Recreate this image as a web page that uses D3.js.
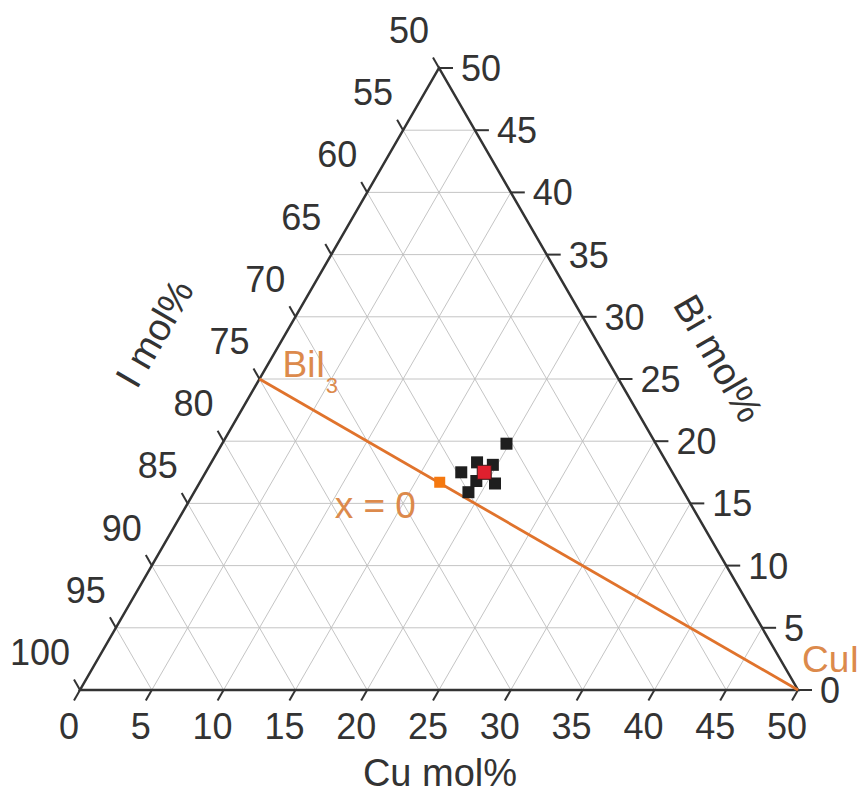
<!DOCTYPE html>
<html>
<head>
<meta charset="utf-8">
<script src="https://cdn.jsdelivr.net/npm/d3@7"></script>
<style>
	body { margin: 0; background: #fff; }
	svg text { font-family: "Liberation Sans", Arial, sans-serif; }
</style>
</head>
<body>
<div id="wrapper"></div>
<script>
// tick values for each side of the ternary
const cuTicks = [0, 5, 10, 15, 20, 25, 30, 35, 40, 45, 50];
const biTicks = [0, 5, 10, 15, 20, 25, 30, 35, 40, 45, 50];
const iTicks = [50, 55, 60, 65, 70, 75, 80, 85, 90, 95, 100];

// measured samples (Cu mol%, Bi mol%), I = 100 - Cu - Bi
const sampleCu = [19.8, 19.7, 18.5, 17.8, 20.6, 19.1, 19.2];
const sampleBi = [19.8, 18.1, 18.3, 17.5, 16.6, 15.9, 16.8];
const meanCu = [19.4];
const meanBi = [17.5];

// BiI3 - CuI tie line and the x = 0 composition
const lineNames = ["BiI3", "CuI"];
const lineCu = [0, 50];
const lineBi = [25, 0];
const refCu = [16.7];
const refBi = [16.7];

function drawTernary() {
	const dimensions = {
		width: 859,
		height: 795,
		left: 80,
		right: 798,
		bottom: 690,
		top: 68
	};

	const svg = d3.select("#wrapper").append("svg")
		.attr("width", dimensions.width)
		.attr("height", dimensions.height);

	// horizontal position uses Cu + Bi/2, vertical uses Bi
	const xScale = d3.scaleLinear().domain([0, 50]).range([dimensions.left, dimensions.right]);
	const yScale = d3.scaleLinear().domain([0, 50]).range([dimensions.bottom, dimensions.top]);

	const px = (cu, bi) => xScale(cu + bi / 2);
	const py = (cu, bi) => yScale(bi);

	const textColor = "#333";
	const orange = "#e0732c";

	// grid lines
	const grid = svg.append("g")
		.attr("stroke", "#bdbdbd")
		.attr("stroke-width", 0.9);
	d3.range(5, 50, 5).forEach(v => {
		// constant Bi (horizontal)
		grid.append("line")
			.attr("x1", px(0, v)).attr("y1", py(0, v))
			.attr("x2", px(50 - v, v)).attr("y2", py(50 - v, v));
		// constant Cu (parallel to left side)
		grid.append("line")
			.attr("x1", px(v, 0)).attr("y1", py(v, 0))
			.attr("x2", px(v, 50 - v)).attr("y2", py(v, 50 - v));
		// constant I (parallel to right side)
		grid.append("line")
			.attr("x1", px(v, 0)).attr("y1", py(v, 0))
			.attr("x2", px(0, v)).attr("y2", py(0, v));
	});

	// frame
	svg.append("path")
		.attr("d", d3.line()([[px(0, 0), py(0, 0)], [px(50, 0), py(50, 0)], [px(0, 50), py(0, 50)]]) + "Z")
		.attr("fill", "none")
		.attr("stroke", textColor)
		.attr("stroke-width", 2.5)
		.attr("stroke-linejoin", "miter");

	const ticks = svg.append("g")
		.attr("stroke", textColor)
		.attr("stroke-width", 2);
	const labels = svg.append("g")
		.attr("fill", textColor)
		.attr("font-size", 36);

	// bottom: Cu
	cuTicks.forEach(v => {
		const x = px(v, 0), y = py(v, 0);
		ticks.append("line")
			.attr("x1", x).attr("y1", y)
			.attr("x2", x - 6).attr("y2", y + 10.5);
		labels.append("text")
			.attr("x", x - 11).attr("y", y + 36)
			.attr("dy", "0.36em")
			.attr("text-anchor", "middle")
			.text(v);
	});

	// right: Bi
	biTicks.forEach(v => {
		const x = px(50 - v, v), y = py(50 - v, v);
		ticks.append("line")
			.attr("x1", x).attr("y1", y)
			.attr("x2", x + 14).attr("y2", y);
		labels.append("text")
			.attr("x", x + 22).attr("y", y)
			.attr("dy", "0.36em")
			.text(v);
	});

	// left: I
	iTicks.forEach(v => {
		const bi = 100 - v;
		const x = px(0, bi), y = py(0, bi);
		ticks.append("line")
			.attr("x1", x).attr("y1", y)
			.attr("x2", x - 6).attr("y2", y - 10.5);
		labels.append("text")
			.attr("x", x - 10).attr("y", y - 38)
			.attr("dy", "0.36em")
			.attr("text-anchor", "end")
			.text(v);
	});

	// axis titles
	svg.append("text")
		.attr("x", 440).attr("y", 772)
		.attr("dy", "0.36em")
		.attr("text-anchor", "middle")
		.attr("font-size", 38)
		.attr("fill", textColor)
		.text("Cu mol%");
	svg.append("text")
		.attr("transform", "translate(154,333) rotate(-60)")
		.attr("dy", "0.36em")
		.attr("text-anchor", "middle")
		.attr("font-size", 38)
		.attr("fill", textColor)
		.text("I mol%");
	svg.append("text")
		.attr("transform", "translate(719,358) rotate(60)")
		.attr("dy", "0.36em")
		.attr("text-anchor", "middle")
		.attr("font-size", 38)
		.attr("fill", textColor)
		.text("Bi mol%");

	// tie line BiI3 - CuI
	svg.append("path")
		.attr("d", d3.line()
			.x((d, i) => px(lineCu[i], lineBi[i]))
			.y((d, i) => py(lineCu[i], lineBi[i]))(lineNames))
		.attr("fill", "none")
		.attr("stroke", orange)
		.attr("stroke-width", 2.8);

	// annotations
	const biI3 = svg.append("text")
		.attr("x", px(lineCu[0], lineBi[0]) + 23)
		.attr("y", py(lineCu[0], lineBi[0]) - 2)
		.attr("font-size", 37)
		.attr("fill", "#dc8a4c");
	biI3.append("tspan").text("BiI");
	biI3.append("tspan").attr("font-size", 22).attr("dy", 16).text("3");

	svg.append("text")
		.attr("x", px(lineCu[1], lineBi[1]) + 4)
		.attr("y", py(lineCu[1], lineBi[1]) - 18)
		.attr("font-size", 37)
		.attr("fill", "#dc8a4c")
		.text("CuI");

	svg.append("text")
		.attr("x", px(refCu[0], refBi[0]) - 105)
		.attr("y", py(refCu[0], refBi[0]) + 36)
		.attr("font-size", 37)
		.attr("fill", "#dc8a4c")
		.text("x = 0");

	// markers
	const size = 12;
	svg.append("g").selectAll("rect")
		.data(refCu)
		.join("rect")
		.attr("x", (d, i) => px(d, refBi[i]) - 5.5)
		.attr("y", (d, i) => py(d, refBi[i]) - 5.5)
		.attr("width", 11).attr("height", 11)
		.attr("fill", "#f5780f");

	svg.append("g").selectAll("rect")
		.data(sampleCu)
		.join("rect")
		.attr("x", (d, i) => px(d, sampleBi[i]) - size / 2)
		.attr("y", (d, i) => py(d, sampleBi[i]) - size / 2)
		.attr("width", size).attr("height", size)
		.attr("fill", "#1e1e1e");

	svg.append("g").selectAll("rect")
		.data(meanCu)
		.join("rect")
		.attr("x", (d, i) => px(d, meanBi[i]) - 7)
		.attr("y", (d, i) => py(d, meanBi[i]) - 7)
		.attr("width", 14).attr("height", 14)
		.attr("fill", "#e0202e")
		.attr("stroke", "#3a1a1a")
		.attr("stroke-width", 1);
}

drawTernary();
</script>
</body>
</html>
